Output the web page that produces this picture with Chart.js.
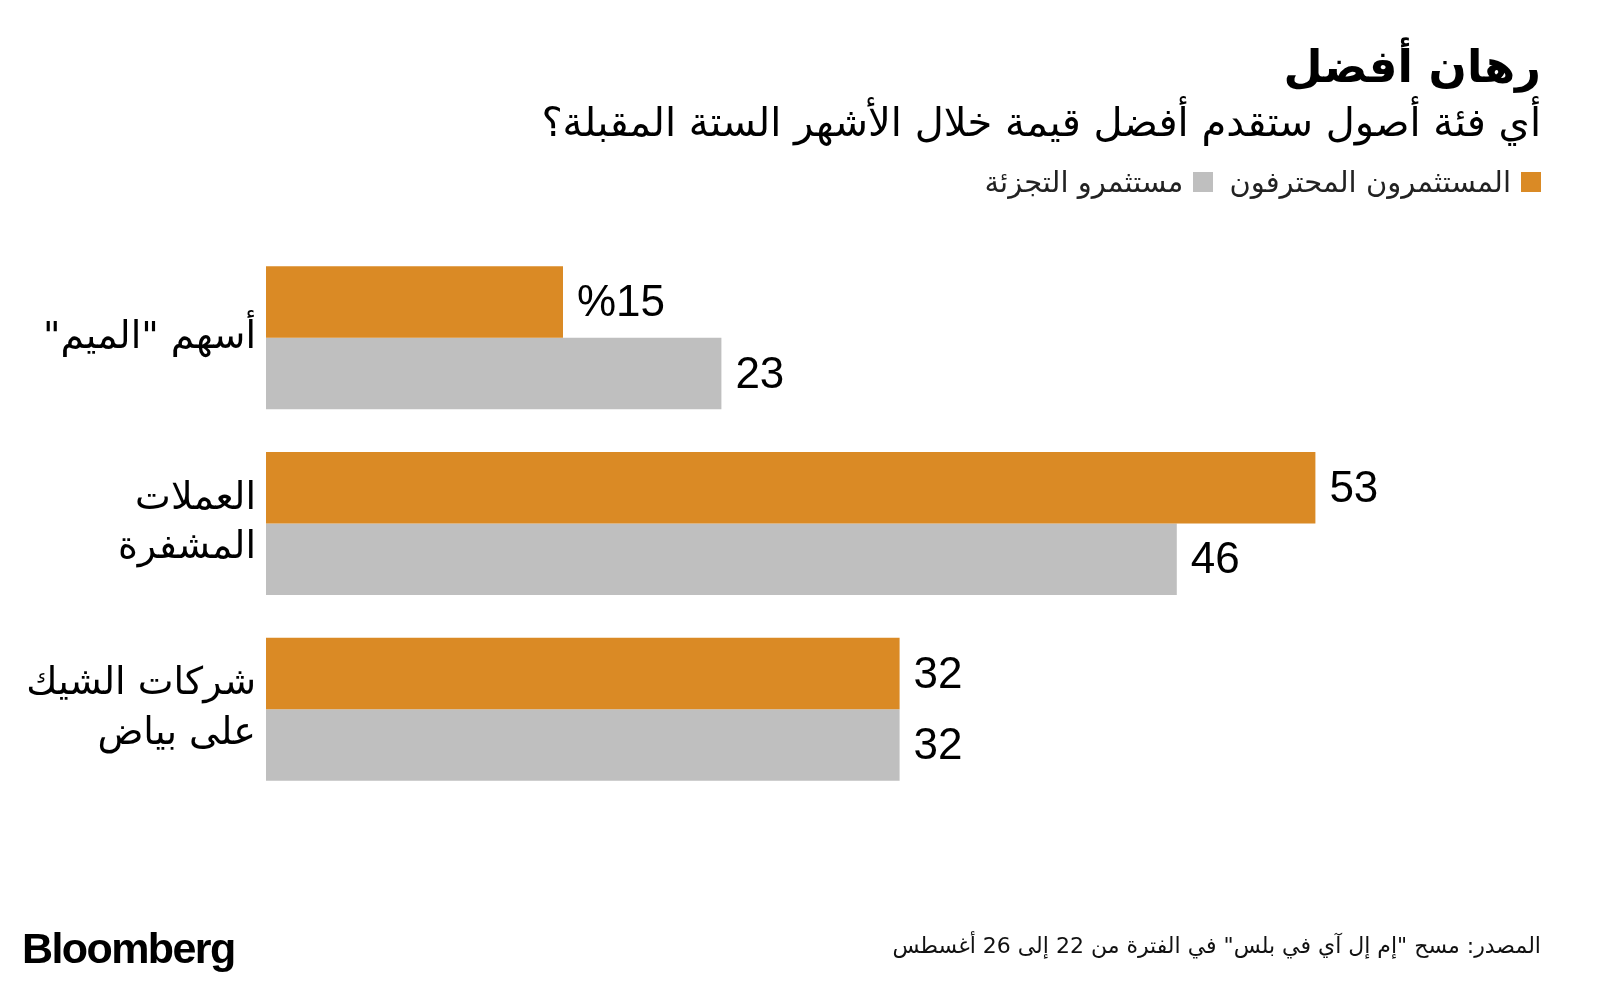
<!DOCTYPE html>
<html>
<head>
<meta charset="utf-8">
<script src="https://cdn.jsdelivr.net/npm/chart.js@4"></script>
<style>
  html, body { margin: 0; padding: 0; background: #fff; }
  body { width: 1600px; height: 981px; position: relative; overflow: hidden; font-family: "DejaVu Sans", sans-serif; color: #000; }
  #chart { position: absolute; left: 0; top: 0; }
  .rt { position: absolute; right: 59px; direction: rtl; white-space: nowrap; }
  #title { top: 37px; font-size: 45px; font-weight: bold; line-height: 60px; }
  #subtitle { top: 96px; font-size: 40px; line-height: 52px; }
  #legend { top: 164px; font-size: 29px; line-height: 36px; display: flex; align-items: center; }
  #legend span.sw { display: inline-block; width: 20px; height: 20px; margin-left: 10px; }
  #legend span.item { display: flex; align-items: center; margin-left: 16px; color: #222; }
  #source { top: 931px; font-size: 22px; line-height: 30px; color: #111; }
  #logo { position: absolute; left: 22px; top: 922px; font-family: "Liberation Sans", sans-serif; font-weight: bold; font-size: 43px; letter-spacing: -1.6px; line-height: 52px; }
</style>
</head>
<body>
<canvas id="chart" width="1600" height="981" dir="rtl"></canvas>
<div id="title" class="rt">رهان أفضل</div>
<div id="subtitle" class="rt">أي فئة أصول ستقدم أفضل قيمة خلال الأشهر الستة المقبلة؟</div>
<div id="legend" class="rt"></div>
<div id="source" class="rt">المصدر: مسح "إم إل آي في بلس" في الفترة من 22 إلى 26 أغسطس</div>
<div id="logo">Bloomberg</div>
<script>
// categories (multi-line labels as arrays)
const categories = [
  'أسهم "الميم"',
  ["العملات", "المشفرة"],
  ["شركات الشيك", "على بياض"]
];
const seriesNames = ["المستثمرون المحترفون", "مستثمرو التجزئة"];
const professional = [15, 53, 32];
const retail = [23, 46, 32];
const seriesColors = ["#DA8A25", "#BFBFBF"];

// legend in html
const legendEl = document.getElementById("legend");
seriesNames.forEach((name, i) => {
  const item = document.createElement("span");
  item.className = "item";
  const sw = document.createElement("span");
  sw.className = "sw";
  sw.style.background = seriesColors[i];
  item.appendChild(sw);
  item.appendChild(document.createTextNode(name));
  legendEl.appendChild(item);
});

// value labels at bar end
const valueLabels = {
  id: "valueLabels",
  afterDatasetsDraw(chart) {
    const ctx = chart.ctx;
    ctx.save();
    ctx.direction = "ltr";
    ctx.font = '44px "Liberation Sans", sans-serif';
    ctx.fillStyle = "#000";
    ctx.textAlign = "left";
    ctx.textBaseline = "middle";
    chart.data.datasets.forEach((ds, di) => {
      chart.getDatasetMeta(di).data.forEach((bar, i) => {
        let txt = String(ds.data[i]);
        if (di === 0 && i === 0) txt = "%" + txt;
        ctx.fillText(txt, bar.x + 14, bar.y + 2);
      });
    });
    ctx.restore();
  }
};

new Chart(document.getElementById("chart").getContext("2d"), {
  type: "bar",
  data: {
    labels: categories,
    datasets: [
      { label: seriesNames[0], data: professional, backgroundColor: seriesColors[0] },
      { label: seriesNames[1], data: retail, backgroundColor: seriesColors[1] }
    ]
  },
  options: {
    indexAxis: "y",
    responsive: false,
    animation: false,
    layout: { padding: { left: 0, right: 146, top: 245, bottom: 179 } },
    datasets: { bar: { categoryPercentage: 0.77, barPercentage: 1.0, borderWidth: 0 } },
    plugins: { legend: { display: false }, tooltip: { enabled: false }, title: { display: false } },
    scales: {
      x: { display: false, min: 0, max: 60 },
      y: {
        afterFit: (s) => { s.width = 266; },
        grid: { display: false, drawTicks: false },
        border: { display: false },
        ticks: {
          padding: 10,
          color: "#000",
          font: { family: '"DejaVu Sans", sans-serif', size: 38, lineHeight: 1.3 }
        }
      }
    }
  },
  plugins: [valueLabels]
});
</script>
</body>
</html>
